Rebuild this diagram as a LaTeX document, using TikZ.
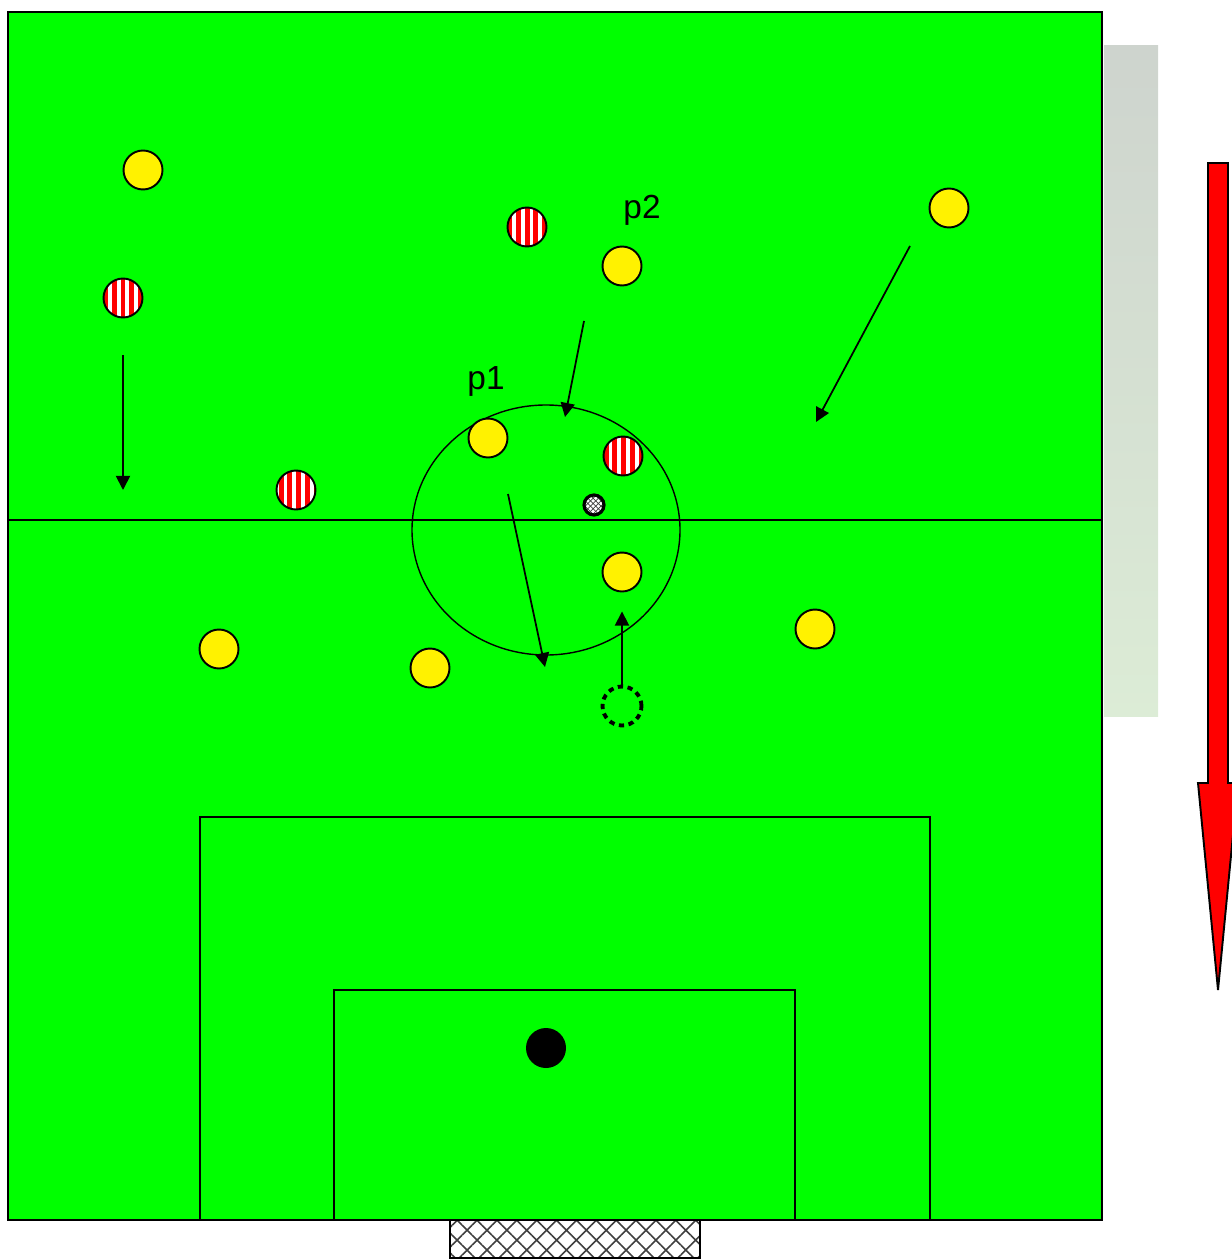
\documentclass[tikz,border=0pt]{standalone}
\usepackage{fontspec}
\setmainfont{Liberation Sans}
\usetikzlibrary{arrows.meta,patterns,patterns.meta}

\definecolor{pitch}{RGB}{0,255,0}
\definecolor{strip}{RGB}{206,212,206}

\tikzset{
  player/.style={circle, draw, line width=1.1pt, minimum size=0.78cm, inner sep=0pt},
  home/.style={player, fill=yellow},
  away/.style={player, preaction={fill=white},
    pattern={Lines[angle=90, distance=5pt, line width=2.8pt]}, pattern color=red},
  run/.style={-{Triangle[length=8pt, width=8pt]}, line width=1pt},
  tag/.style={font=\fontsize{19}{21}\selectfont, inner sep=0pt},
}

\begin{document}
\begin{tikzpicture}[x=0.02cm, y=-0.02cm]
\useasboundingbox (0,0) rectangle (1231,1260);

% background strip and direction arrow
\shade[top color=strip, bottom color={rgb,255:red,220;green,236;blue,214}]
  (1104,46) rectangle (1158,716);
\draw[fill=red, line width=1.1pt]
  (1208,163) -- (1228,163) -- (1228,783) -- (1238,783) -- (1218,990)
  -- (1198,783) -- (1208,783) -- cycle;

% pitch
\draw[fill=pitch, line width=1.1pt] (8,12) rectangle (1102,1220);
\draw[line width=0.8pt] (8,520) -- (1102,520);
\draw[line width=0.8pt] (546,530) ellipse [x radius=134, y radius=125];
\draw[line width=0.8pt] (200,1220) |- (930,817) -- (930,1220);
\draw[line width=0.8pt] (334,1220) |- (795,990) -- (795,1220);
\node[circle, fill=black, minimum size=0.8cm, inner sep=0pt] (spot) at (546,1048) {};
\draw[line width=1.1pt, preaction={fill=white},
  pattern={Hatch[angle=45, distance=8pt, line width=0.9pt]}, pattern color=darkgray]
  (450,1220) rectangle (700,1258);

% players
\node[home] (y1) at (143,170) {};
\node[home] (y2) at (949,208) {};
\node[home] (y3) at (622,266) {};
\node[home] (y4) at (488,438) {};
\node[home] (y5) at (622,572) {};
\node[home] (y6) at (219,649) {};
\node[home] (y7) at (430,668) {};
\node[home] (y8) at (815,629) {};

\node[away] (r1) at (123,298) {};
\node[away] (r2) at (527,227) {};
\node[away] (r3) at (623,456) {};
\node[away] (r4) at (296,490) {};

\node[circle, draw, line width=1.8pt, minimum size=0.4cm, inner sep=0pt,
  preaction={fill=white}, pattern=crosshatch, pattern color=darkgray] (ball) at (594,505) {};
\node[player, fill=none, dash pattern=on 3pt off 2.6pt, line width=2.2pt] (ghost) at (622,706) {};

\node[tag] (p2) at (642,210) {p2};
\node[tag] (p1) at (486,381) {p1};

% runs
\coordinate (a1) at (123,355);
\coordinate (b1) at (123,490);
\coordinate (a2) at (584,321);
\coordinate (b2) at (565,417);
\coordinate (a3) at (910,246);
\coordinate (b3) at (816,422);
\coordinate (a4) at (508,494);
\coordinate (b4) at (545,667);

\draw[run] (a1) -- (b1);
\draw[run] (a2) -- (b2);
\draw[run] (a3) -- (b3);
\draw[run] (a4) -- (b4);
\draw[run, shorten >=0.38cm] (ghost) -- (y5);

\end{tikzpicture}
\end{document}
